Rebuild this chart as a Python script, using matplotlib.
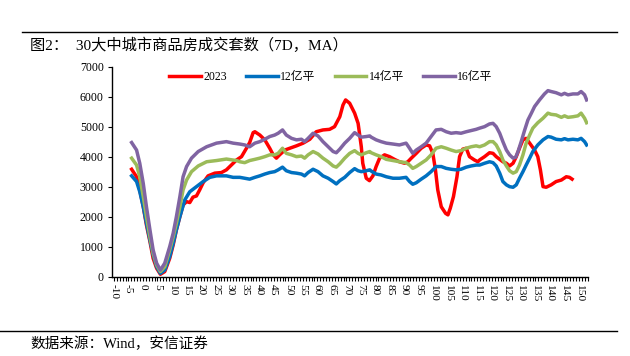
import matplotlib.pyplot as plt
from matplotlib.ticker import MultipleLocator, FixedLocator

plt.rcParams['font.family'] = ['Liberation Serif', 'Noto Sans CJK SC']

# 2023
x_2023 = [-3.9, -2.2, -1.1, 0.1, 1.2, 2.4, 3.5, 4.7, 6.0, 7.5, 9.2, 10.4, 11.5, 12.7, 13.8,
          15.0, 16.1, 17.2, 18.4, 19.5, 20.7, 22.4, 24.7, 27.0, 28.7, 30.4, 32.2, 33.9, 35.6, 36.7,
          37.9, 38.5, 40.2, 41.9, 43.6, 44.8, 45.9, 47.0, 48.8, 50.5, 52.8, 55.1, 57.4, 59.6, 61.9,
          64.2, 65.9, 67.7, 68.8, 69.7, 71.1, 72.8, 74.0, 75.1, 75.6, 76.8, 77.9, 79.1, 80.2, 81.4,
          83.1, 84.8, 86.5, 88.2, 90.0, 91.1, 92.3, 94.0, 95.7, 97.4, 98.6, 99.7, 100.6, 101.4, 102.6,
          104.1, 104.9, 105.7, 106.8, 108.0, 108.9, 110.0, 111.2, 112.3, 114.0, 115.2, 115.8, 117.5, 119.2, 120.4,
          121.5, 122.7, 123.8, 125.0, 126.1, 127.3, 128.4, 129.5, 130.7, 131.8, 133.0, 134.7, 135.8, 136.7, 137.6,
          138.7, 140.4, 142.1, 143.9, 145.6, 146.7, 147.6]
v_2023 = [3590, 3340, 2900, 2340, 1730, 1180, 620, 290, 90, 180, 620, 1070, 1570, 2010, 2400,
          2510, 2480, 2660, 2700, 2900, 3140, 3370, 3460, 3480, 3570, 3730, 3900, 4010, 4290, 4480,
          4810, 4840, 4730, 4570, 4290, 4070, 3960, 4070, 4230, 4290, 4370, 4460, 4590, 4840, 4900,
          4920, 5010, 5340, 5730, 5900, 5790, 5460, 5120, 4340, 3790, 3290, 3210, 3370, 3680, 3960,
          4070, 4010, 3920, 3840, 3790, 3840, 3960, 4120, 4290, 4400, 4370, 4120, 3570, 2900, 2340,
          2120, 2070, 2290, 2680, 3340, 4010, 4260, 4290, 4010, 3900, 3840, 3900, 4010, 4140, 4120,
          4010, 3920, 3840, 3790, 3700, 3790, 4010, 4290, 4570, 4620, 4460, 4230, 4010, 3570, 3010,
          2990, 3070, 3180, 3230, 3340, 3320, 3260]

# 12亿平
x_12 = [-3.9, -2.2, -1.1, 0.1, 1.2, 2.4, 3.5, 4.7, 6.0, 7.5, 9.2, 10.4, 11.5, 12.7, 14.4,
        16.1, 18.4, 20.7, 23.0, 25.3, 28.7, 31.0, 33.3, 35.0, 36.7, 38.5, 40.2, 41.9, 43.6, 45.3,
        46.5, 48.0, 49.3, 51.1, 52.8, 54.5, 55.6, 56.8, 58.5, 60.2, 61.9, 63.7, 65.4, 66.5, 67.7,
        69.4, 71.1, 72.8, 74.0, 75.1, 76.8, 78.0, 78.5, 80.2, 81.9, 83.7, 86.0, 88.2, 90.5, 91.7,
        92.8, 94.0, 95.7, 97.4, 99.1, 100.8, 102.6, 104.3, 106.0, 107.7, 109.4, 111.2, 112.9, 114.6, 115.8,
        117.5, 119.2, 120.4, 121.5, 122.7, 123.8, 125.0, 126.1, 127.3, 128.4, 129.5, 130.7, 131.8, 133.0, 134.1,
        135.8, 137.6, 139.3, 140.4, 142.1, 143.9, 145.0, 146.2, 147.9, 149.6, 150.7, 151.9, 152.6]
v_12 = [3370, 3180, 2840, 2340, 1790, 1230, 730, 340, 120, 230, 680, 1120, 1570, 2010, 2570,
        2840, 3010, 3180, 3320, 3370, 3370, 3320, 3320, 3290, 3260, 3320, 3370, 3430, 3480, 3510,
        3570, 3660, 3540, 3480, 3460, 3430, 3370, 3480, 3590, 3510, 3370, 3290, 3180, 3100, 3210,
        3320, 3480, 3610, 3540, 3510, 3540, 3570, 3530, 3430, 3400, 3340, 3290, 3290, 3320, 3180,
        3090, 3140, 3260, 3370, 3510, 3680, 3680, 3620, 3590, 3570, 3590, 3660, 3700, 3730, 3730,
        3790, 3840, 3810, 3700, 3460, 3180, 3070, 3010, 2990, 3070, 3290, 3510, 3730, 3960, 4180,
        4400, 4570, 4680, 4660, 4590, 4570, 4610, 4570, 4590, 4570, 4620, 4510, 4400]

# 14亿平
x_14 = [-3.9, -2.2, -1.1, 0.1, 1.2, 2.4, 3.5, 4.7, 6.0, 7.5, 9.2, 10.4, 11.5, 12.7, 13.8,
        15.0, 16.7, 19.0, 21.9, 25.3, 28.7, 32.2, 33.3, 35.0, 36.7, 38.5, 40.2, 41.9, 43.6, 45.3,
        46.5, 48.0, 49.3, 51.1, 52.8, 54.5, 55.6, 56.8, 58.5, 60.2, 61.9, 63.7, 65.4, 66.5, 67.7,
        69.4, 71.1, 72.8, 74.0, 75.1, 76.8, 78.0, 78.5, 80.2, 81.9, 83.7, 86.0, 88.2, 90.5, 91.7,
        92.8, 94.0, 95.7, 97.4, 99.1, 100.8, 102.6, 104.3, 106.0, 107.7, 109.4, 111.2, 112.9, 114.6, 115.8,
        117.5, 119.2, 120.4, 121.5, 122.7, 123.8, 125.0, 126.1, 127.3, 128.4, 129.5, 130.7, 131.8, 133.0, 134.1,
        135.8, 137.6, 139.3, 140.4, 142.1, 143.9, 145.0, 146.2, 147.9, 149.6, 150.7, 151.9, 152.6]
v_14 = [3960, 3730, 3340, 2680, 2010, 1340, 790, 400, 180, 340, 900, 1340, 1790, 2340, 2900,
        3230, 3510, 3700, 3840, 3880, 3930, 3880, 3840, 3810, 3880, 3920, 3960, 4010, 4070, 4070,
        4120, 4290, 4120, 4070, 4010, 4030, 3960, 4070, 4180, 4100, 3960, 3840, 3700, 3660, 3770,
        3960, 4120, 4210, 4120, 4070, 4140, 4180, 4140, 4070, 4010, 3920, 3880, 3840, 3810, 3730,
        3620, 3680, 3790, 3900, 4070, 4290, 4340, 4290, 4230, 4180, 4210, 4290, 4340, 4370, 4340,
        4400, 4510, 4510, 4400, 4180, 3900, 3700, 3540, 3460, 3510, 3730, 4070, 4460, 4730, 4960,
        5140, 5290, 5460, 5420, 5400, 5320, 5370, 5320, 5340, 5370, 5460, 5290, 5140]

# 16亿平
x_16 = [-3.9, -2.2, -1.1, 0.1, 1.2, 2.4, 3.5, 4.7, 6.0, 7.5, 9.2, 10.4, 11.5, 12.7, 13.8,
        15.0, 16.7, 19.0, 21.9, 25.3, 28.7, 31.0, 33.3, 35.0, 36.7, 38.5, 40.2, 41.9, 43.6, 45.3,
        46.5, 48.0, 49.3, 51.1, 52.8, 54.5, 55.6, 56.8, 58.5, 60.2, 61.9, 63.7, 65.4, 66.5, 67.7,
        69.4, 71.1, 72.8, 74.0, 75.1, 76.8, 78.0, 78.5, 80.2, 81.9, 83.7, 86.0, 88.2, 90.5, 91.7,
        92.8, 94.0, 95.7, 97.4, 99.1, 100.8, 102.6, 104.3, 106.0, 107.7, 109.4, 111.2, 112.9, 114.6, 115.8,
        117.5, 119.2, 120.4, 121.5, 122.7, 123.8, 125.0, 126.1, 127.3, 128.2, 129.0, 130.1, 131.3, 132.4, 133.6,
        134.7, 136.4, 138.1, 139.3, 140.4, 142.1, 143.9, 145.0, 146.2, 147.9, 149.6, 150.7, 151.9, 152.6]
v_16 = [4480, 4230, 3790, 3120, 2340, 1570, 900, 460, 230, 460, 1010, 1460, 2010, 2680, 3340,
        3680, 3960, 4180, 4340, 4460, 4510, 4460, 4430, 4400, 4340, 4460, 4510, 4590, 4680, 4730,
        4790, 4900, 4730, 4620, 4570, 4590, 4510, 4620, 4790, 4700, 4510, 4340, 4180, 4140, 4260,
        4460, 4620, 4810, 4730, 4660, 4680, 4700, 4660, 4570, 4510, 4460, 4430, 4400, 4460, 4290,
        4120, 4230, 4340, 4460, 4680, 4900, 4920, 4840, 4790, 4810, 4790, 4840, 4880, 4920, 4960,
        5010, 5100, 5120, 5010, 4790, 4510, 4230, 4070, 3960, 3990, 4180, 4510, 4900, 5230, 5460,
        5680, 5900, 6100, 6210, 6180, 6140, 6070, 6120, 6070, 6100, 6100, 6180, 6070, 5900]

series_names = ['2023', '12亿平', '14亿平', '16亿平']
series_colors = ['#FF0000', '#0070C0', '#9BBB59', '#8064A2']

x_ticks = list(range(-10, 151, 5))
y_ticks = list(range(0, 7001, 1000))

fig = plt.figure(figsize=(6.3, 3.56), dpi=100)
ax = fig.add_axes([0.178, 0.222, 0.755, 0.59])

for xs, vs, name, col in zip([x_2023, x_12, x_14, x_16], [v_2023, v_12, v_14, v_16],
                             series_names, series_colors):
    ax.plot(xs, vs, color=col, lw=2.5, label=name, solid_joinstyle='round')

ax.set_xlim(-10.6, 153)
ax.set_ylim(0, 7000)
ax.spines['top'].set_visible(False)
ax.spines['right'].set_visible(False)
ax.spines['left'].set_linewidth(1.0)
ax.spines['bottom'].set_linewidth(1.0)

ax.xaxis.set_major_locator(FixedLocator(x_ticks))
ax.xaxis.set_minor_locator(MultipleLocator(1))
ax.set_xticklabels([str(t) for t in x_ticks], rotation=270, fontsize=8.2)
ax.set_yticks(y_ticks)
ax.set_yticklabels([str(t) for t in y_ticks], fontsize=8.5)
ax.tick_params(axis='x', which='both', direction='out', length=3, width=0.8, pad=2)
ax.tick_params(axis='y', direction='out', length=3, width=0.8, pad=3)

ax.legend(loc='center', bbox_to_anchor=(0.46, 0.952), ncol=4, frameon=False,
          fontsize=8.5, handlelength=2.7, handletextpad=0.2, columnspacing=1.6)

fig.add_artist(plt.Line2D([0.035, 0.98], [0.91, 0.91], color='black', lw=1.0))
fig.add_artist(plt.Line2D([0.0, 0.98], [0.07, 0.07], color='black', lw=1.0))
fig.text(0.048, 0.873, '图2：  30大中城市商品房成交套数（7D，MA）', fontsize=11, va='center')
fig.text(0.048, 0.033, '数据来源：Wind，安信证券', fontsize=10.5, va='center')

fig.savefig('out.png', dpi=100)
